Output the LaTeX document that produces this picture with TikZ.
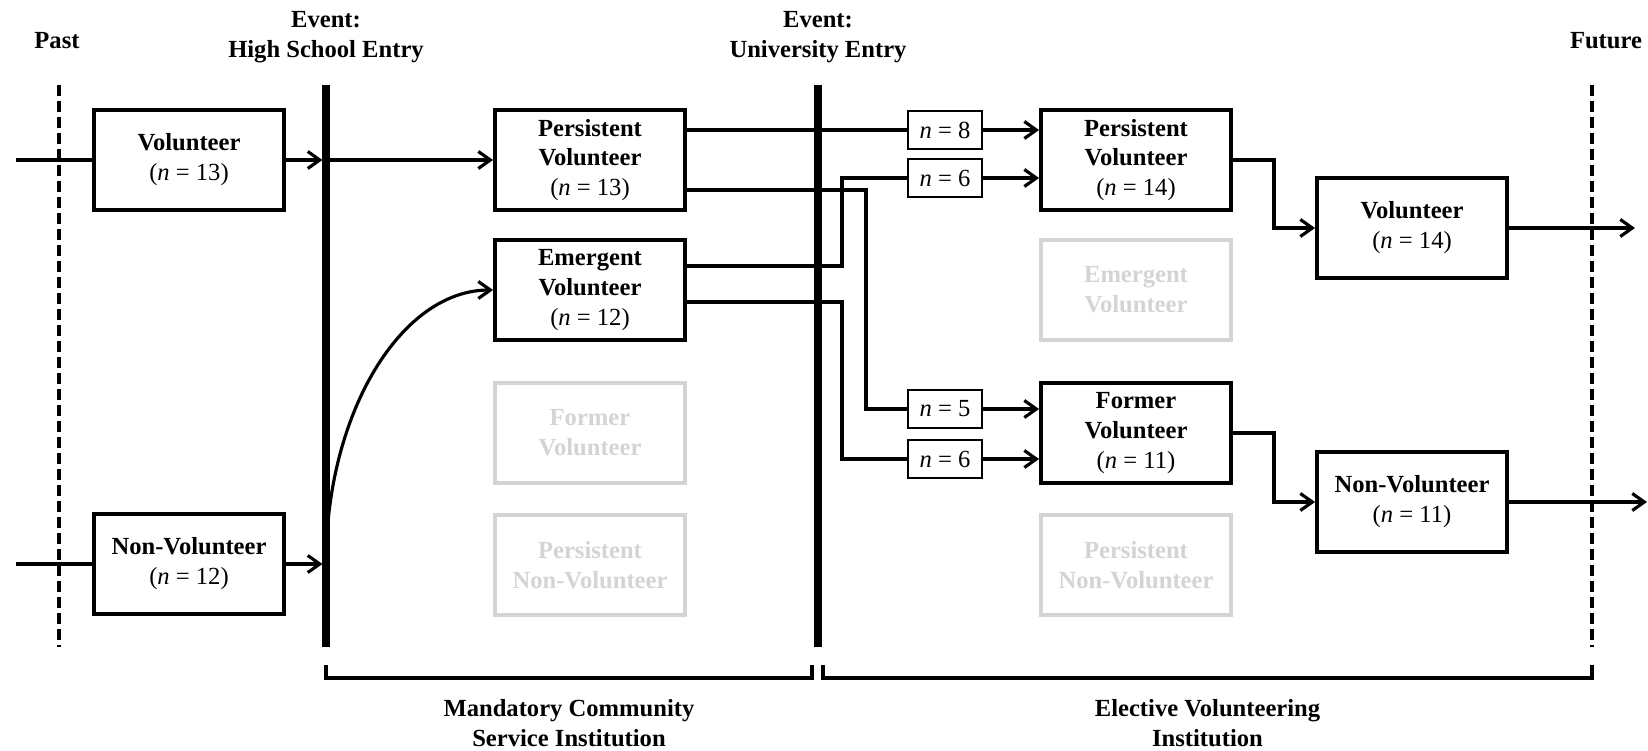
\documentclass[tikz,border=0pt]{standalone}
\usepackage{fontspec}
\setmainfont{Liberation Serif}
\usetikzlibrary{arrows.meta}

\definecolor{ghostgray}{RGB}{212,212,212}
\newcommand{\ncount}[1]{{\mdseries(\textit{n} = #1)}}

\tikzset{
  heading/.style={font=\fontsize{14}{17}\selectfont\bfseries, align=center},
  stage/.style={draw, line width=2.2pt, minimum width=3.8cm, minimum height=2.0cm,
    inner sep=0pt, align=center, font=\fontsize{14}{17}\selectfont\bfseries},
  ghost/.style={stage, draw=ghostgray, text=ghostgray},
  tally/.style={draw, line width=1.6pt, minimum width=1.48cm, minimum height=0.76cm,
    inner sep=0pt, font=\fontsize{14}{17}\selectfont},
  link/.style={line width=1.8pt},
  flow/.style={link, -{Straight Barb[length=2.4mm,width=3.4mm]}},
  event/.style={line width=4pt},
  horizon/.style={line width=2.2pt, dash pattern=on 0.22cm off 0.1cm}
}

\begin{document}
\begin{tikzpicture}
    \useasboundingbox (0,0) rectangle (32.96,15);

    % Time labels
    \node[heading] (past) at (1.14,14.18) {Past};
    \node[heading] (hsentry) at (6.52,14.26) {Event:\\High School Entry};
    \node[heading] (unientry) at (16.36,14.26) {Event:\\University Entry};
    \node[heading] (future) at (32.12,14.18) {Future};

    % Time lines
    \coordinate (pasttop) at (1.18,13.3);
    \coordinate (pastbot) at (1.18,2.06);
    \coordinate (hstop) at (6.52,13.3);
    \coordinate (hsbot) at (6.52,2.06);
    \coordinate (unitop) at (16.36,13.3);
    \coordinate (unibot) at (16.36,2.06);
    \coordinate (futtop) at (31.84,13.3);
    \coordinate (futbot) at (31.84,2.06);
    \draw[horizon] (pasttop) -- (pastbot);
    \draw[event] (hstop) -- (hsbot);
    \draw[event] (unitop) -- (unibot);
    \draw[horizon] (futtop) -- (futbot);

    % Before high school
    \node[stage] (vol0) at (3.78,11.8) {Volunteer\\\ncount{13}};
    \node[stage] (non0) at (3.78,3.72) {Non-Volunteer\\\ncount{12}};

    % Mandatory community service
    \node[stage] (pv1) at (11.8,11.8) {Persistent\\Volunteer\\\ncount{13}};
    \node[stage] (ev1) at (11.8,9.2) {Emergent\\Volunteer\\\ncount{12}};
    \node[ghost] (fv1) at (11.8,6.34) {Former\\Volunteer};
    \node[ghost] (pn1) at (11.8,3.7) {Persistent\\Non-Volunteer};

    % Elective volunteering
    \node[stage] (pv2) at (22.72,11.8) {Persistent\\Volunteer\\\ncount{14}};
    \node[ghost] (ev2) at (22.72,9.2) {Emergent\\Volunteer};
    \node[stage] (fv2) at (22.72,6.34) {Former\\Volunteer\\\ncount{11}};
    \node[ghost] (pn2) at (22.72,3.7) {Persistent\\Non-Volunteer};
    \node[stage] (vol3) at (28.24,10.44) {Volunteer\\\ncount{14}};
    \node[stage] (non3) at (28.24,4.96) {Non-Volunteer\\\ncount{11}};

    % Transition counts
    \node[tally] (n8) at (18.9,12.4) {\textit{n} = 8};
    \node[tally] (n6a) at (18.9,11.44) {\textit{n} = 6};
    \node[tally] (n5) at (18.9,6.82) {\textit{n} = 5};
    \node[tally] (n6b) at (18.9,5.82) {\textit{n} = 6};

    % Free ends and jogs
    \coordinate (invol) at (0.32,11.8);
    \coordinate (innon) at (0.32,3.72);
    \coordinate (outvol) at (32.7,10.44);
    \coordinate (outnon) at (32.94,4.96);
    \coordinate (joga) at (17.32,0);
    \coordinate (jogb) at (16.84,0);
    \coordinate (jogc) at (25.48,0);

    % Into high school
    \draw[link] (invol) -- (vol0.west);
    \draw[link] (innon) -- (non0.west);
    \draw[flow, shorten >=2pt] (vol0.east) -- (vol0.east -| hstop);
    \draw[flow, shorten >=2pt] (non0.east) -- (non0.east -| hstop);
    \draw[flow] (vol0.east -| hstop) -- (pv1.west);
    \draw[flow] (non0.east -| hstop) .. controls +(0,3.02) and +(-1.84,0) .. (ev1.west);

    % Into university
    \draw[link] (pv1.east |- n8.west) -- (n8.west);
    \draw[link] ([yshift=-0.6cm]pv1.east) -| (joga |- n5.west) -- (n5.west);
    \draw[link] ([yshift=0.48cm]ev1.east) -| (jogb |- n6a.west) -- (n6a.west);
    \draw[link] ([yshift=-0.24cm]ev1.east) -| (jogb |- n6b.west) -- (n6b.west);
    \draw[flow] (n8.east) -- (n8.east -| pv2.west);
    \draw[flow] (n6a.east) -- (n6a.east -| pv2.west);
    \draw[flow] (n5.east) -- (n5.east -| fv2.west);
    \draw[flow] (n6b.east) -- (n6b.east -| fv2.west);

    % Into the future
    \draw[flow] (pv2.east) -| (jogc |- vol3.west) -- (vol3.west);
    \draw[flow] (fv2.east) -| (jogc |- non3.west) -- (non3.west);
    \draw[flow] (vol3.east) -- (outvol);
    \draw[flow] (non3.east) -- (outnon);

    % Institutions
    \draw[link] (6.52,1.7) -- (6.52,1.44) -- (16.24,1.44) -- (16.24,1.7);
    \draw[link] (16.46,1.7) -- (16.46,1.44) -- (31.84,1.44) -- (31.84,1.7);
    \node[heading] (mandatory) at (11.38,0.54) {Mandatory Community\\Service Institution};
    \node[heading] (elective) at (24.15,0.54) {Elective Volunteering\\Institution};

\end{tikzpicture}
\end{document}
